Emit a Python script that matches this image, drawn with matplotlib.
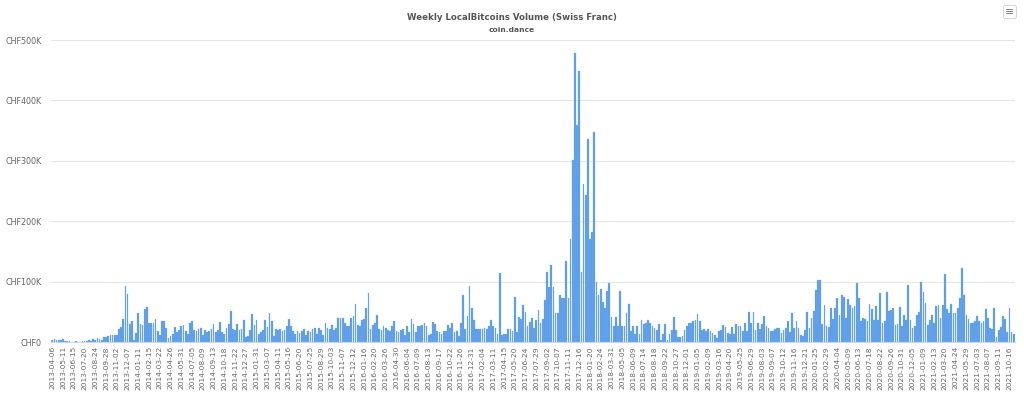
import numpy as np
import pandas as pd
import matplotlib
matplotlib.use('Agg')
import matplotlib.pyplot as plt
import matplotlib.ticker as ticker

# weekly volume in thousands of CHF
vol_2013_2015 = [3, 5, 4, 4, 4, 5, 1, 1, 1, 0.5, 0.5, 1, 0.5, 0.5, 1, 1, 2, 3, 2,
                 5, 4, 6, 5, 3, 8, 9, 10, 11, 12, 12, 11,
                 21, 25, 38, 93, 79, 30, 34, 3, 15, 48,
                 30, 28, 54, 58, 32, 32, 32, 38, 18, 12,
                 34, 35, 24, 6, 10, 14, 25, 17, 20, 26,
                 28, 18, 13, 32, 35, 20, 18, 21, 23, 11,
                 20, 17, 19, 22, 29, 17, 20, 33, 17, 14,
                 24, 30, 51, 22, 20, 30, 20, 21, 37, 9,
                 10, 20, 46, 28, 37, 14, 17, 20, 37, 25,
                 48, 35, 10, 22, 20, 21, 18, 20, 26, 38,
                 26, 18, 14, 18, 15, 18, 21, 12, 18, 17,
                 21, 24, 14, 24, 20, 11, 31, 24, 22, 28,
                 20, 23, 40, 40]
vol_2015_2016 = [39, 31, 26, 27, 40, 43, 63, 28, 26, 37,
                 38, 56, 81, 21, 28, 31, 45, 21, 20, 26,
                 24, 20, 18, 27, 34, 18, 16, 20, 21, 11,
                 26, 17, 38, 29, 16, 27, 27, 28, 31]
vol_2016_2017 = [26, 12, 13, 33, 30, 19, 17, 13, 19, 19,
                 28, 24, 31, 16, 18, 10, 32, 77, 21, 43,
                 93, 56, 37, 21, 21, 21, 21, 24, 21, 26,
                 36, 27, 24, 13, 114, 12, 13, 13, 22, 22,
                 18, 74, 17, 41, 38, 61, 49, 27, 33, 39,
                 23, 37, 53, 32, 38, 70, 116, 91, 128]
vol_2017_2018 = [91, 48, 48, 78, 73, 73, 134, 73, 171, 302,
                 478, 359, 449, 116, 262, 243, 336, 170, 182, 347,
                 100, 78, 88, 67, 56, 85, 98, 42, 27, 41,
                 26, 85, 27, 26, 48, 63, 18, 27, 14, 27,
                 14, 36, 30, 32, 36, 32, 27, 23, 20, 30,
                 4, 13, 29, 4, 13, 20, 42, 20, 9]
vol_2018_2021 = [8, 10, 20, 26, 31, 32, 34, 36, 46, 34,
                 20, 21, 19, 22, 19, 15, 12, 6, 19, 20,
                 28, 25, 15, 13, 25, 13, 30, 26, 26, 18,
                 31, 18, 50, 32, 49, 20, 32, 21, 30, 43,
                 26, 24, 18, 18, 21, 24, 23, 15, 20, 23,
                 34, 17, 48, 24, 35, 24, 12, 10, 20,
                 49, 23, 39, 52, 86, 102, 102, 30, 61, 26,
                 25, 57, 38, 57, 73, 45, 77, 75, 40, 72,
                 61, 57, 59, 97, 73, 35, 40, 38, 35,
                 63, 54, 36, 59, 36, 81, 31, 34, 83, 51,
                 53, 56, 28, 30, 58, 26, 44, 36, 94, 36,
                 23, 26, 45, 49, 99, 83, 65, 28, 36, 45,
                 32, 60, 62, 39, 61, 113, 54, 48, 63, 48,
                 48, 57, 73, 122, 77, 45, 38, 31, 32,
                 34, 43, 34, 32, 35, 54, 39, 24, 22, 56,
                 8, 20, 25, 43, 38, 17, 57, 17, 13]

volume = np.concatenate([vol_2013_2015, vol_2015_2016, vol_2016_2017,
                         vol_2017_2018, vol_2018_2021]) * 1000
weeks = pd.date_range('2013-04-06', periods=len(volume), freq='7D')
week_labels = [d.strftime('%Y-%m-%d') for d in weeks]
y_ticks = [0, 100000, 200000, 300000, 400000, 500000]

fig = plt.figure(figsize=(10.24, 3.99), dpi=100)
ax = fig.add_axes([51 / 1024, 1 - 342 / 399, 964 / 1024, 302 / 399])

x = np.arange(len(volume))
ax.bar(x, volume, width=0.8, color='#5b9de8', edgecolor='#7db2ee', linewidth=0.2)

ax.set_xlim(-0.6, len(volume) - 0.4)
ax.set_ylim(0, 500000)
ax.set_yticks(y_ticks)
ax.yaxis.set_major_formatter(ticker.FuncFormatter(
    lambda v, p: 'CHF0' if v == 0 else 'CHF%dK' % (v / 1000)))
ax.set_xticks(x[::5])
ax.set_xticklabels(week_labels[::5], rotation=90, fontsize=5.4, color='#666666')
ax.tick_params(axis='x', length=0, pad=3)
ax.tick_params(axis='y', length=0, pad=7, labelsize=5.8, labelcolor='#666666')
ax.grid(axis='y', color='#e6e6e6', linewidth=0.8)
ax.set_axisbelow(True)
for s in ['top', 'right', 'left']:
    ax.spines[s].set_visible(False)
ax.spines['bottom'].set_color('#ccd6eb')
ax.spines['bottom'].set_linewidth(0.8)

fig.text(0.5, 1 - 18 / 399, 'Weekly LocalBitcoins Volume (Swiss Franc)', ha='center',
         va='center', fontsize=6.2, fontweight='bold', color='#555555')
fig.text(0.5, 1 - 30 / 399, 'coin.dance', ha='center', va='center',
         fontsize=5.4, fontweight='bold', color='#555555')
fig.text(1010 / 1024, 1 - 12 / 399, '\u2261', ha='center', va='center', fontsize=8,
         color='#777777',
         bbox=dict(boxstyle='round,pad=0.15', fc='white', ec='#cccccc', lw=0.6))

plt.savefig('out.png', dpi=100)
